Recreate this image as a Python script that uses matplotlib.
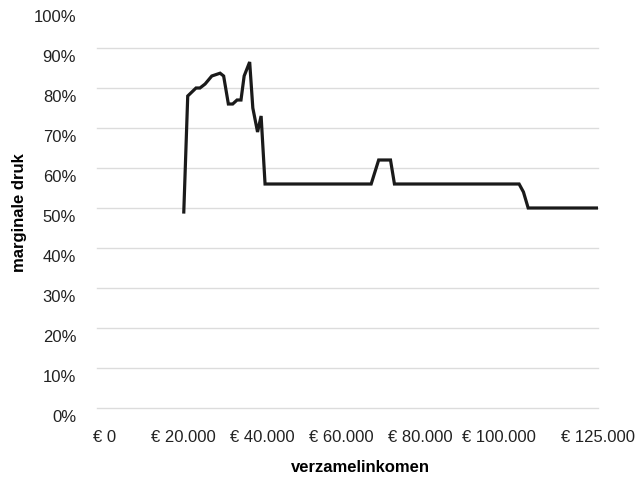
import matplotlib
matplotlib.use("Agg")
import matplotlib.pyplot as plt
import matplotlib.transforms as mtransforms
from matplotlib.ticker import FuncFormatter

plt.rcParams["font.family"] = ["Liberation Sans", "DejaVu Sans"]

# verzamelinkomen (EUR) vs marginale druk (fraction)
income = [20000, 21000, 23100, 24100, 25400, 27100, 29200, 30100, 31300, 32400,
          33500, 34500, 35300, 36700, 37500, 38700, 39600, 40600, 67500, 69400,
          72400, 73400, 105000, 106100, 107300, 125000]
pressure = [0.49, 0.78, 0.80, 0.80, 0.81, 0.83, 0.837, 0.83, 0.76, 0.76,
            0.77, 0.77, 0.83, 0.865, 0.75, 0.69, 0.73, 0.56, 0.56, 0.62,
            0.62, 0.56, 0.56, 0.54, 0.50, 0.50]

x_ticks = [0, 20000, 40000, 60000, 80000, 100000, 125000]
x_labels = ["€ 0", "€ 20.000", "€ 40.000", "€ 60.000", "€ 80.000", "€ 100.000", "€ 125.000"]
y_ticks = [i / 10 for i in range(11)]

fig = plt.figure(figsize=(6.38, 4.81), dpi=100)
ax = fig.add_axes([97 / 638, 1 - 409 / 481, (598 - 97) / 638, 400 / 481])

ax.plot(income, pressure, color="#1a1a1a", linewidth=2.3, solid_joinstyle="miter")

ax.set_xlim(-2000, 125000)
ax.set_ylim(0, 1)
ax.set_xticks(x_ticks)
ax.set_xticklabels(x_labels)
ax.set_yticks(y_ticks)
ax.yaxis.set_major_formatter(FuncFormatter(lambda v, _: f"{v * 100:.0f}%"))

ax.grid(axis="y", color="#dcdcdc", linewidth=1)
ax.grid(axis="x", visible=False)
for gl in ax.yaxis.get_gridlines():
    gl.set_clip_on(False)
ax.yaxis.get_gridlines()[-1].set_visible(False)
ax.set_axisbelow(True)

for s in ax.spines.values():
    s.set_visible(False)
ax.tick_params(length=0, colors="#222222")
ax.tick_params(axis="y", pad=15, labelsize=12)
ax.tick_params(axis="x", pad=15, labelsize=12)

# percent labels sit a little below their gridlines
shift = mtransforms.ScaledTranslation(0, -7 / 100, fig.dpi_scale_trans)
for lab in ax.get_yticklabels():
    lab.set_transform(lab.get_transform() + shift)

ax.set_xlabel("verzamelinkomen", fontsize=12, fontweight="bold", va="center")
ax.xaxis.set_label_coords((360 - 97) / 501, (409 - 468) / 400)
ax.set_ylabel("marginale druk", fontsize=12, fontweight="bold", va="center")
ax.yaxis.set_label_coords((20 - 97) / 501, 0.49)

fig.savefig("out.png", dpi=100)
